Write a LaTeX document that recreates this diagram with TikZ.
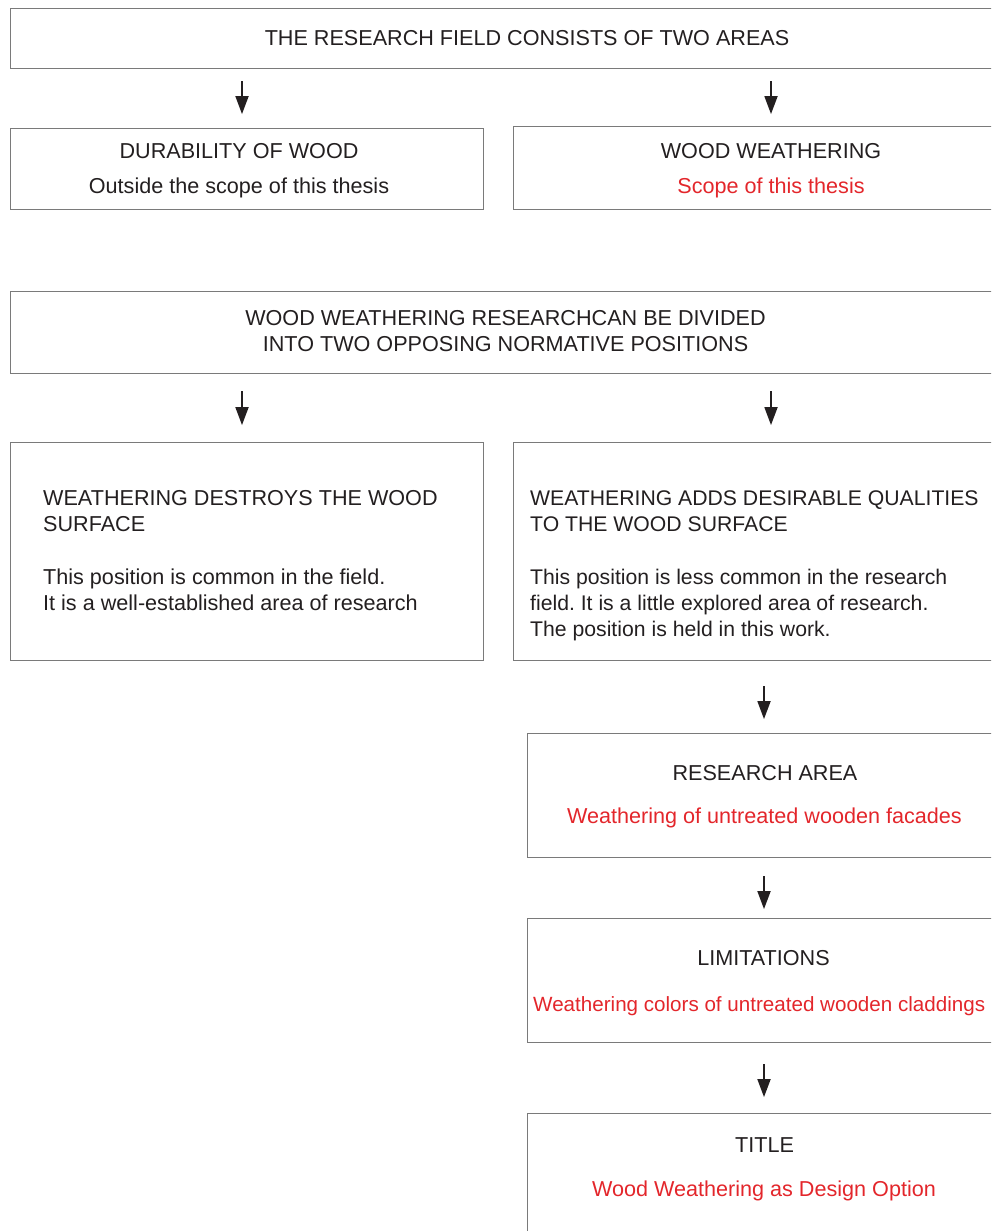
\documentclass[tikz,border=0pt]{standalone}
\usepackage{fontspec}
\setmainfont{Liberation Sans}
\usetikzlibrary{arrows.meta}
\definecolor{txtc}{HTML}{231F20}
\definecolor{redc}{HTML}{E3262B}
\definecolor{boxc}{HTML}{7A7A7A}
\frenchspacing
\begin{document}
\begin{tikzpicture}[x=1pt,y=1pt,
  box/.style={draw=boxc,line width=1.1pt,rectangle,inner sep=0pt,anchor=north west},
  txt/.style={text=txtc,font=\fontsize{21.6}{26}\selectfont,inner sep=0pt,anchor=base},
  redtxt/.style={txt,text=redc},
  para/.style={txt,anchor=north west,align=left},
  arr/.style={draw=txtc,line width=1.8pt,-{Triangle[width=13pt,length=18pt]}}]
\useasboundingbox (0,0) rectangle (991,-1231);
\clip (0,0) rectangle (991,-1231);
% boxes
\node[box,minimum width=995pt,minimum height=60pt] (b1) at (10,-8) {};
\node[box,minimum width=473pt,minimum height=81pt] (dur) at (10,-128) {};
\node[box,minimum width=492pt,minimum height=83pt] (ww) at (513,-126) {};
\node[box,minimum width=995pt,minimum height=82pt] (b2) at (10,-291) {};
\node[box,minimum width=473pt,minimum height=218pt] (des) at (10,-442) {};
\node[box,minimum width=492pt,minimum height=218pt] (add) at (513,-442) {};
\node[box,minimum width=478pt,minimum height=124pt] (ra) at (527,-733) {};
\node[box,minimum width=478pt,minimum height=124pt] (lim) at (527,-918) {};
\node[box,minimum width=478pt,minimum height=140pt] (tit) at (527,-1113) {};
% texts
\node[txt] (t1) at (527,-46) {THE RESEARCH FIELD CONSISTS OF TWO AREAS};
\node[txt] (t2) at (239,-158) {DURABILITY OF WOOD};
\node[txt] (t3) at (239,-193) {Outside the scope of this thesis};
\node[txt] (t4) at (771,-158) {WOOD WEATHERING};
\node[redtxt] (t5) at (771,-193) {Scope of this thesis};
\node[txt] (t6) at (505.5,-325) {WOOD WEATHERING RESEARCHCAN BE DIVIDED};
\node[txt] (t7) at (505.5,-351) {INTO TWO OPPOSING NORMATIVE POSITIONS};
\node[para] (t8) at (43,-490) {WEATHERING DESTROYS THE WOOD\\SURFACE\\[27pt]This position is common in the field.\\It is a well-established area of research};
\node[para,font=\fontsize{21.2}{26}\selectfont] (t9) at (530,-490) {WEATHERING ADDS DESIRABLE QUALITIES\\TO THE WOOD SURFACE\\[27pt]This position is less common in the research\\field. It is a little explored area of research.\\The position is held in this work.};
\node[txt] (t10) at (765,-780) {RESEARCH AREA};
\node[redtxt] (t11) at (764.5,-823) {Weathering of untreated wooden facades};
\node[txt] (t12) at (763.5,-965) {LIMITATIONS};
\node[redtxt,font=\fontsize{20.6}{26}\selectfont,anchor=base west] (t13) at (533,-1011) {Weathering colors of untreated wooden claddings};
\node[txt] (t14) at (764.5,-1152) {TITLE};
\node[redtxt] (t15) at (764,-1196) {Wood Weathering as Design Option};
% arrows
\draw[arr] (b1.south west) ++(232,-12) -- ++(0,-33);
\draw[arr] (b1.south west) ++(761,-12) -- ++(0,-33);
\draw[arr] (b2.south west) ++(232,-17) -- ++(0,-34);
\draw[arr] (b2.south west) ++(761,-17) -- ++(0,-34);
\draw[arr] (add.south west) ++(251,-25) -- ++(0,-33);
\draw[arr] (ra.south west) ++(237,-18) -- ++(0,-33);
\draw[arr] (lim.south west) ++(237,-21) -- ++(0,-33);
\end{tikzpicture}
\end{document}
